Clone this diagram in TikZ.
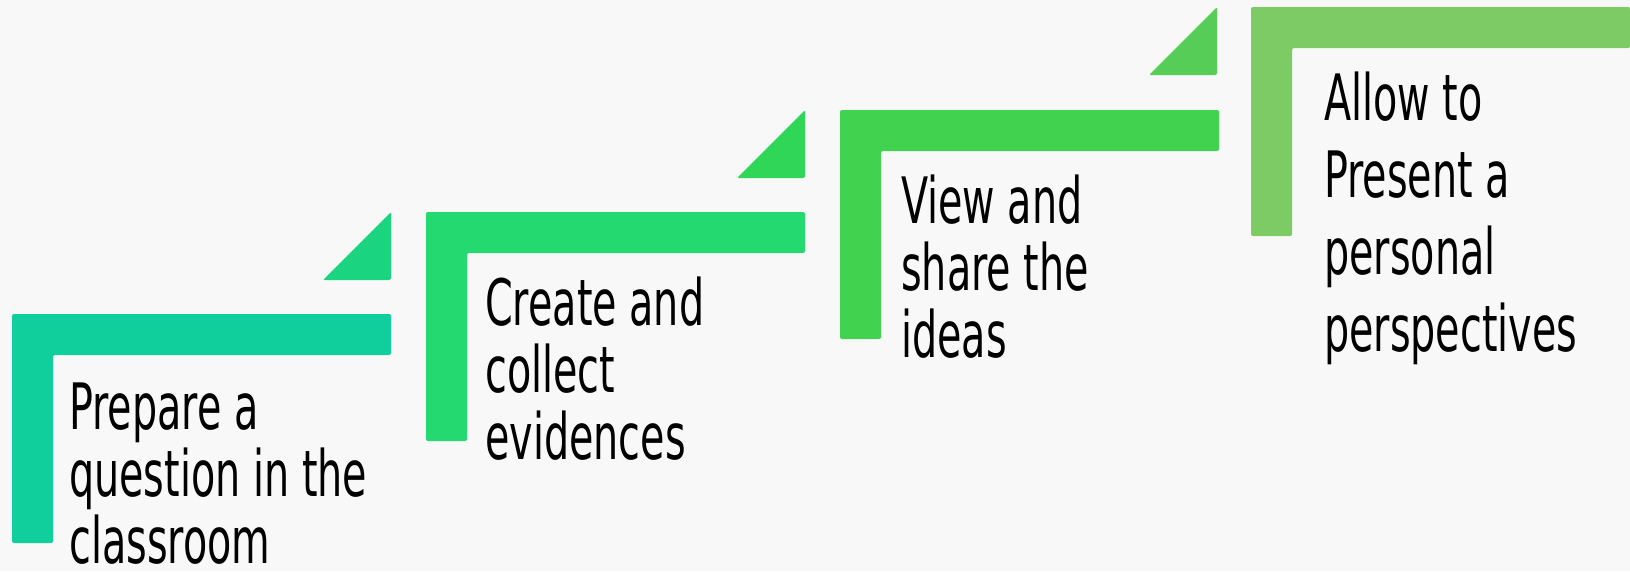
\documentclass[tikz,border=0pt]{standalone}
\usepackage{fontspec}
\setmainfont[FakeStretch=0.62]{DejaVu Sans}
\usetikzlibrary{positioning}
\definecolor{stepA}{RGB}{17,207,157}
\definecolor{stepB}{RGB}{35,217,112}
\definecolor{stepC}{RGB}{65,211,80}
\definecolor{stepD}{RGB}{124,203,100}
\definecolor{tipA}{RGB}{27,212,127}
\definecolor{tipB}{RGB}{48,214,88}
\definecolor{tipC}{RGB}{85,205,86}
\definecolor{paper}{RGB}{248,248,248}

\tikzset{
  bracket/.style={rounded corners=2pt},
  steptext/.style={anchor=north west, inner sep=0pt, align=left, text=black,
                   font=\fontsize{64}{67}\selectfont},
}

\begin{document}
\begin{tikzpicture}[x=1pt, y=-1pt]
  % --- page background ---
  \fill[paper] (0,0) rectangle (1630,571);
  \useasboundingbox (0,0) rectangle (1630,571);
  % --- L-shaped step brackets (x, top, colour) ---
  \foreach \x/\y/\c in {12/314/stepA, 426/212/stepB, 840/110/stepC, 1251/7/stepD}{
    \fill[\c,bracket] (\x,\y) -- ++(379,0) -- ++(0,41) -- ++(-338,0)
                      -- ++(0,188) -- ++(-41,0) -- cycle;
  }
  % --- corner triangles between the steps ---
  \foreach \x/\y/\c in {391/280/tipA, 805/178/tipB, 1217/75/tipC}{
    \fill[\c,bracket] (\x,\y) -- ++(-68,0) -- ++(68,-68) -- cycle;
  }
  % --- step labels ---
  \node[steptext] (prepare) at (69,379)
    {\rule{0pt}{50pt}Prepare a\\question in the\\classroom};
  \node[steptext] (collect) at (485,275)
    {\rule{0pt}{50pt}Create and\\collect\\evidences};
  \node[steptext] (share) at (901,173)
    {\rule{0pt}{50pt}View and\\share the\\ideas};
  \node[steptext, font=\fontsize{64}{77}\selectfont] (present) at (1324,70)
    {\rule{0pt}{50pt}Allow to\\Present a\\personal\\perspectives};
\end{tikzpicture}
\end{document}
